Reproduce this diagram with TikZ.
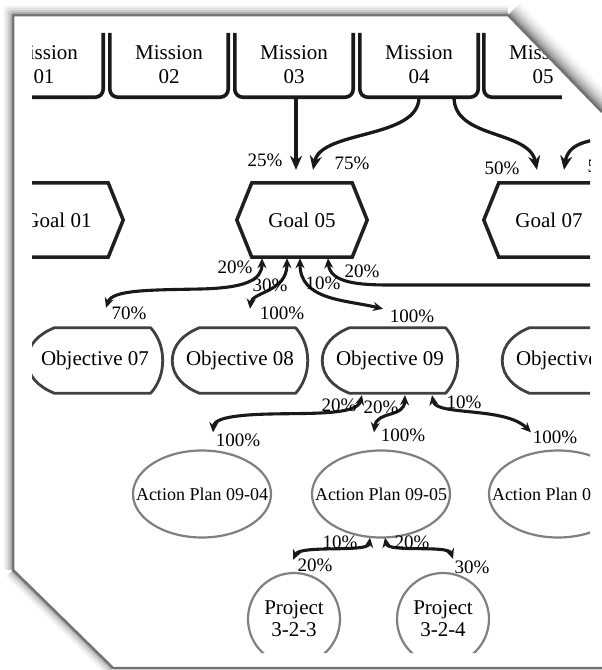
\documentclass[tikz,border=0pt]{standalone}
\usepackage{fontspec}
\setmainfont{Liberation Serif}
\usetikzlibrary{calc,arrows.meta}
\tikzset{
 misbox/.style={minimum width=118pt, minimum height=64pt, inner sep=0pt, align=center, font=\fontsize{21}{24}\selectfont},
 goalbox/.style={minimum width=130pt, minimum height=74pt, inner sep=0pt, font=\fontsize{21}{24}\selectfont},
 objbox/.style={minimum width=135pt, minimum height=65pt, inner sep=0pt, font=\fontsize{21}{24}\selectfont},
 apbox/.style={minimum width=138pt, minimum height=87pt, inner sep=0pt, font=\fontsize{18}{20}\selectfont},
 prjbox/.style={minimum width=92pt, minimum height=92pt, inner sep=0pt, align=center, font=\fontsize{21}{22}\selectfont},
 pct/.style={inner sep=0pt, font=\fontsize{19}{20}\selectfont},
 misline/.style={line width=3.6pt, black!90, rounded corners=8pt},
 goalline/.style={line width=3.5pt, black!88, line join=miter},
 objline/.style={line width=2.8pt, black!75},
 ellline/.style={line width=2.2pt, black!50},
 bigarr/.style={line width=3.3pt, black!90, -{Stealth[length=14pt,width=12pt]}},
 biarr/.style={line width=3.1pt, black!90, {Stealth[length=10pt,width=9pt]}-{Stealth[length=10pt,width=9pt]}},
 uparr/.style={line width=3.1pt, black!90, {Stealth[length=10pt,width=9pt]}-},
 pageline/.style={line width=2.5pt, black!55, line join=round},
}
\newcommand{\hexshape}[1]{\draw[goalline] (#1.west) -- ($(#1.north west)+(15,0)$) -- ($(#1.north east)+(-15,0)$) -- (#1.east) -- ($(#1.south east)+(-15,0)$) -- ($(#1.south west)+(15,0)$) -- cycle;}
\newcommand{\objshape}[1]{\draw[objline, line join=round] ($(#1.north west)+(27,0)$) -- ($(#1.north east)+(-12,0)$) .. controls +(7,8) and +(0,-14) .. (#1.east) .. controls +(0,14) and +(7,-8) .. ($(#1.south east)+(-12,0)$) -- ($(#1.south west)+(27,0)$) .. controls +(-15,-6) and +(0,16) .. (#1.west) .. controls +(0,-16) and +(-15,6) .. ($(#1.north west)+(27,0)$) -- cycle;}
\newcommand{\misshape}[1]{\draw[misline] (#1.north west) -- (#1.south west) -- (#1.south east) -- (#1.north east);}
\begin{document}
\begin{tikzpicture}[x=1pt,y=-1pt]
\useasboundingbox (0,0) rectangle (602,670);
\fill[white] (0,0) rectangle (602,670);
\begin{scope}
\clip (32,28) -- (520,28) -- (590,100) -- (590,653) -- (32,653) -- cycle;
% missions
\node[misbox] (m1) at (44,65) {Mission\\01};
\node[misbox] (m2) at (169,65) {Mission\\02};
\node[misbox] (m3) at (294,65) {Mission\\03};
\node[misbox] (m4) at (419,65) {Mission\\04};
\node[misbox] (m5) at (543,65) {Mission\\05};
\misshape{m1}\misshape{m2}\misshape{m3}\misshape{m4}
\draw[misline] (m5.north west) -- (m5.south west) -- ($(m5.south west)+(78,0)$);
% goals
\node[goalbox] (g1) at (58,220) {Goal 01};
\node[goalbox] (g5) at (302,220) {Goal 05};
\node[goalbox] (g7) at (549,220) {Goal 07};
\hexshape{g1}\hexshape{g5}\hexshape{g7}
% objectives
\node[objbox] (o7) at (95,360.5) {Objective 07};
\node[objbox] (o8) at (240,360.5) {Objective 08};
\node[objbox] (o9) at (390,360.5) {Objective 09};
\node[objbox] (o10) at (570,360.5) {Objective 10};
\objshape{o7}\objshape{o8}\objshape{o9}\objshape{o10}
% action plans
\node[apbox] (a4) at (202,494) {Action Plan 09-04};
\node[apbox] (a5) at (381,494) {Action Plan 09-05};
\node[apbox] (a6) at (558,494) {Action Plan 09-06};
\foreach \n in {a4,a5,a6} {\draw[ellline] (\n.center) ellipse [x radius=69pt, y radius=43.5pt];}
% projects
\node[prjbox] (p3) at (294,619) {Project\\3-2-3};
\node[prjbox] (p4) at (443,619) {Project\\3-2-4};
\foreach \n in {p3,p4} {\draw[ellline] (\n.center) circle [radius=46pt];}
% mission -> goal
\coordinate (m6b) at (625,138);
\draw[bigarr] ($(m3.south)+(2,0)$) -- ($(g5.north)+(-6,-13)$);
\draw[bigarr] (m4.south) .. controls +(0,42) and +(8,-40) .. ($(g5.north)+(11,-13)$);
\draw[bigarr] ($(m4.south)+(35,0)$) .. controls +(0,42) and +(-8,-40) .. ($(g7.north)+(-12,-13)$);
\draw[bigarr] (m6b) .. controls +(-40,0) and +(4,-25) .. ($(g7.north)+(15,-13)$);
% goal <-> objectives
\coordinate (o11in) at (600,285);
\draw[biarr] ($(g5.south)+(-40,1)$) .. controls +(0,22) and +(45,-1) .. (200,289) .. controls +(-50,1) and +(6,-18) .. ($(o7.north)+(11,-20)$);
\draw[biarr] ($(g5.south)+(-15,1)$) .. controls +(0,34) and +(2,-17) .. ($(o8.north)+(10,-19)$);
\draw[biarr] ($(g5.south)+(-2,1)$) .. controls +(0,42) and +(-38,-9) .. ($(o9.north)+(-7,-19)$);
\draw[uparr] ($(g5.south)+(26,1)$) .. controls +(2,25) and +(-30,0) .. (390,285) -- (o11in);
% objective <-> action plans
\draw[biarr] ($(o9.south)+(-28,2)$) .. controls +(-5,20) and +(40,-1) .. (270,414) .. controls +(-45,1) and +(1,-12) .. ($(a4.north)+(11,-18)$);
\draw[biarr] ($(o9.south)+(15,2)$) .. controls +(-1,23) and +(3,-22) .. ($(a5.north)+(-7,-18)$);
\draw[biarr] ($(o9.south)+(42,2)$) .. controls +(4,21) and +(-26,-26) .. ($(a6.north)+(-27,-18)$);
% action plan <-> projects
\draw[biarr] ($(a5.south)+(-11,0)$) .. controls +(-2,15) and +(7,-15) .. ($(p3.north)+(-1,-13)$);
\draw[biarr] ($(a5.south)+(4,0)$) .. controls +(3,15) and +(-5,-14) .. ($(p4.north)+(10,-14)$);
% labels
\node[pct] (l1) at (265,160) {25\%};
\node[pct] (l2) at (352,163) {75\%};
\node[pct] (l3) at (502,168) {50\%};
\node[pct] (l4) at (605,166) {50\%};
\node[pct] (l5) at (235,267) {20\%};
\node[pct] (l6) at (270,285) {30\%};
\node[pct] (l7) at (323,283) {10\%};
\node[pct] (l8) at (362,271) {20\%};
\node[pct] (l9) at (129,313) {70\%};
\node[pct] (l10) at (282,313) {100\%};
\node[pct] (l11) at (412,316) {100\%};
\node[pct] (l12) at (339,405) {20\%};
\node[pct] (l13) at (381,407) {20\%};
\node[pct] (l14) at (464,402) {10\%};
\node[pct] (l15) at (238,440) {100\%};
\node[pct] (l16) at (403,435) {100\%};
\node[pct] (l17) at (555,437) {100\%};
\node[pct] (l18) at (340,542) {10\%};
\node[pct] (l19) at (412,542) {20\%};
\node[pct] (l20) at (315,565) {20\%};
\node[pct] (l21) at (472,567) {30\%};
\end{scope}
% page shadows
\foreach \d/\c in {2/30,4/20,6/12,8/6} {
  \draw[line width=2.2pt, black!\c] ({13-\d},{15-\d}) -- ({13-\d},570);
  \draw[line width=2.2pt, black!\c] ({13-\d},{15-\d}) -- (508,{15-\d});
  \draw[line width=2.2pt, black!\c] ({13-0.7*\d},{570+0.714*\d}) -- ({113-0.7*\d},{668+0.714*\d});
}
\foreach \d/\c in {2/45,4/36,6/28,8/21,10/15,12/10,14/6,16/3} {
  \draw[line width=2.2pt, black!\c] ({508+0.718*\d},{15-0.696*\d}) -- ({602+0.718*\d},{112-0.696*\d});
}
% page border
\draw[pageline] (602,112) -- (508,15) -- (13,15) -- (13,570) -- (113,668) -- (602,668);
\end{tikzpicture}
\end{document}
